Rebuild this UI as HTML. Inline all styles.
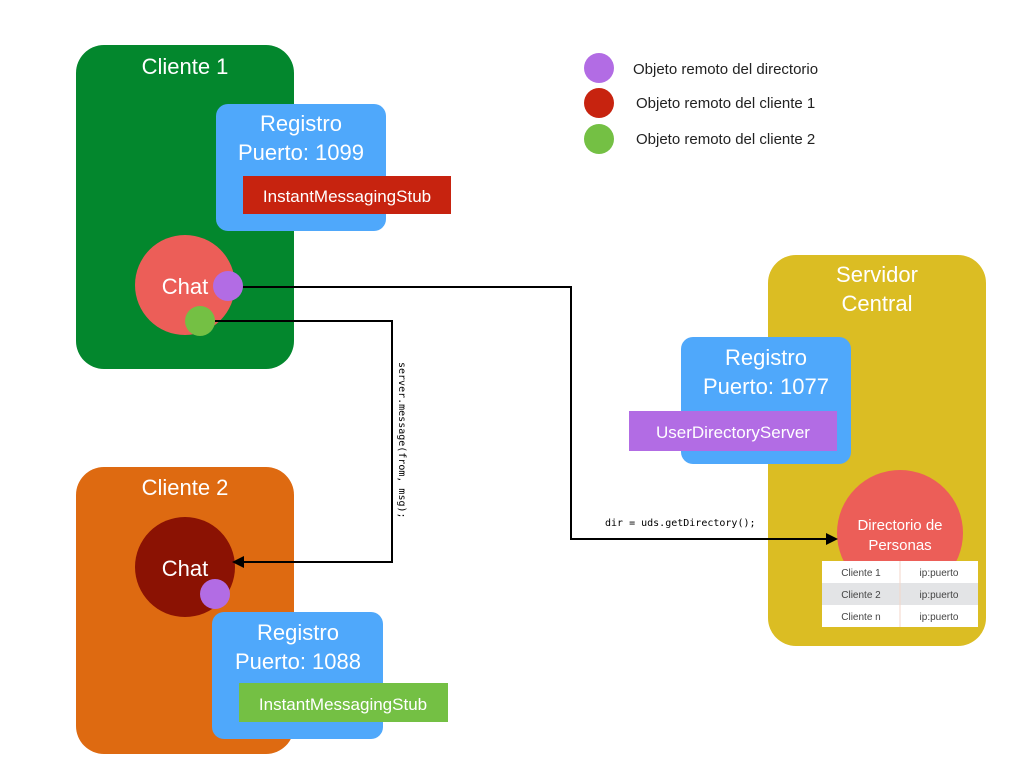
<!DOCTYPE html>
<html><head><meta charset="utf-8"><style>body{margin:0;background:#fff}svg{display:block}</style></head><body>
<svg width="1024" height="768" xmlns="http://www.w3.org/2000/svg" font-family="Liberation Sans, sans-serif">
<rect width="1024" height="768" fill="#fff"/>
<!-- Cliente 1 -->
<rect x="76" y="45" width="218" height="324" rx="28" fill="#03872d"/>
<text x="185" y="74" font-size="22" fill="#fff" text-anchor="middle">Cliente 1</text>
<rect x="216" y="104" width="170" height="127" rx="12" fill="#4fa8fb"/>
<text x="301" y="131" font-size="22" fill="#fff" text-anchor="middle">Registro</text>
<text x="301" y="160" font-size="22" fill="#fff" text-anchor="middle">Puerto: 1099</text>
<rect x="243" y="176" width="208" height="38" fill="#c7230f"/>
<text x="347" y="202" font-size="17" fill="#fff" text-anchor="middle">InstantMessagingStub</text>
<circle cx="185" cy="285" r="50" fill="#ec5e58"/>
<text x="185" y="294" font-size="22" fill="#fff" text-anchor="middle">Chat</text>
<circle cx="228" cy="286" r="15" fill="#b26ce4"/>
<circle cx="200" cy="321" r="15" fill="#74c044"/>
<!-- Cliente 2 -->
<rect x="76" y="467" width="218" height="287" rx="28" fill="#de6a11"/>
<text x="185" y="495" font-size="22" fill="#fff" text-anchor="middle">Cliente 2</text>
<circle cx="185" cy="567" r="50" fill="#8b1203"/>
<text x="185" y="576" font-size="22" fill="#fff" text-anchor="middle">Chat</text>
<circle cx="215" cy="594" r="15" fill="#b26ce4"/>
<rect x="212" y="612" width="171" height="127" rx="12" fill="#4fa8fb"/>
<text x="298" y="640" font-size="22" fill="#fff" text-anchor="middle">Registro</text>
<text x="298" y="669" font-size="22" fill="#fff" text-anchor="middle">Puerto: 1088</text>
<rect x="239" y="683" width="209" height="39" fill="#74c044"/>
<text x="343" y="710" font-size="17" fill="#fff" text-anchor="middle">InstantMessagingStub</text>
<!-- Servidor -->
<rect x="768" y="255" width="218" height="391" rx="28" fill="#dbbd23"/>
<text x="877" y="282" font-size="22" fill="#fff" text-anchor="middle">Servidor</text>
<text x="877" y="311" font-size="22" fill="#fff" text-anchor="middle">Central</text>
<rect x="681" y="337" width="170" height="127" rx="12" fill="#4fa8fb"/>
<text x="766" y="365" font-size="22" fill="#fff" text-anchor="middle">Registro</text>
<text x="766" y="394" font-size="22" fill="#fff" text-anchor="middle">Puerto: 1077</text>
<rect x="629" y="411" width="208" height="40" fill="#b26ce4"/>
<text x="733" y="438" font-size="17" fill="#fff" text-anchor="middle">UserDirectoryServer</text>
<circle cx="900" cy="533" r="63" fill="#ec5e58"/>
<text x="900" y="530" font-size="15" fill="#fff" text-anchor="middle">Directorio de</text>
<text x="900" y="550" font-size="15" fill="#fff" text-anchor="middle">Personas</text>
<rect x="822" y="561" width="156" height="22" fill="#fff"/>
<rect x="822" y="583" width="156" height="22" fill="#e3e4e6"/>
<rect x="822" y="605" width="156" height="22" fill="#fff"/>
<line x1="900" y1="561" x2="900" y2="627" stroke="#f3d6c8" stroke-width="1"/>
<g font-size="10" fill="#444" text-anchor="middle">
<text x="861" y="576">Cliente 1</text><text x="939" y="576">ip:puerto</text>
<text x="861" y="598">Cliente 2</text><text x="939" y="598">ip:puerto</text>
<text x="861" y="620">Cliente n</text><text x="939" y="620">ip:puerto</text>
</g>
<!-- Legend -->
<circle cx="599" cy="68" r="15" fill="#b26ce4"/>
<text x="633" y="74" font-size="15" fill="#222">Objeto remoto del directorio</text>
<circle cx="599" cy="103" r="15" fill="#c7230f"/>
<text x="636" y="108" font-size="15" fill="#222">Objeto remoto del cliente 1</text>
<circle cx="599" cy="139" r="15" fill="#74c044"/>
<text x="636" y="144" font-size="15" fill="#222">Objeto remoto del cliente 2</text>
<!-- Connectors -->
<polyline points="243,287 571,287 571,539 830,539" fill="none" stroke="#000" stroke-width="2"/>
<polygon points="838,539 826,533 826,545" fill="#000"/>
<polyline points="215,321 392,321 392,562 240,562" fill="none" stroke="#000" stroke-width="2"/>
<polygon points="232,562 244,556 244,568" fill="#000"/>
<text x="605" y="526" font-size="10" font-family="DejaVu Sans Mono, monospace" fill="#000">dir = uds.getDirectory();</text>
<text transform="translate(399,362) rotate(90)" font-size="10" font-family="DejaVu Sans Mono, monospace" fill="#000">server.message(from, msg);</text>
</svg>
</body></html>
